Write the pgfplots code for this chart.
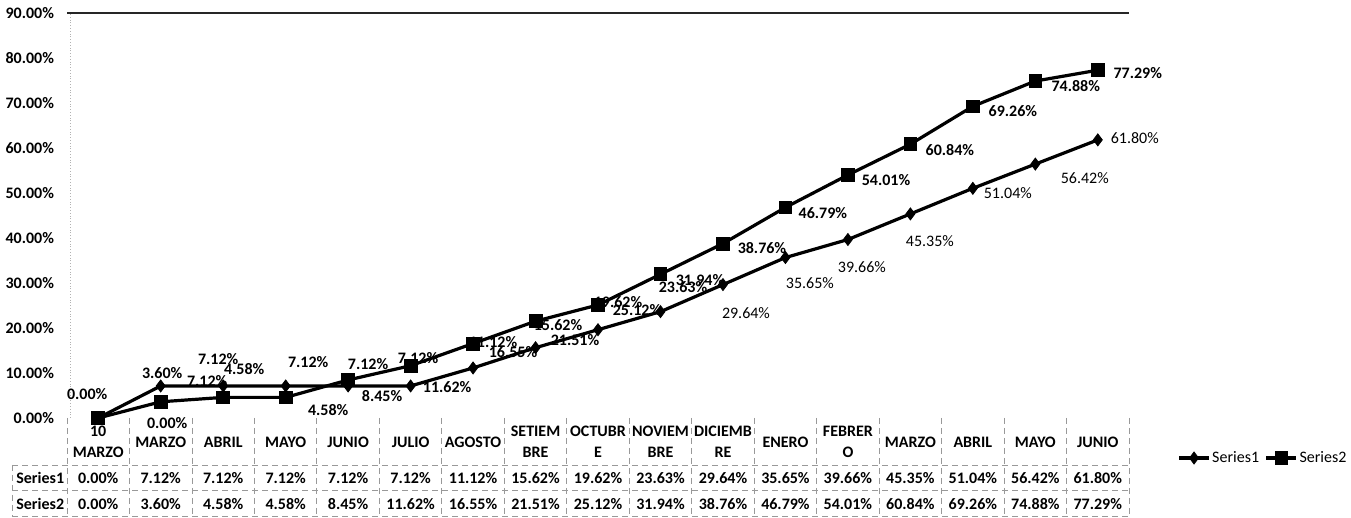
\documentclass[border=0pt]{standalone}
\usepackage{fontspec}
\setmainfont{Carlito}
\usepackage{pgfplots}
\pgfplotsset{compat=1.18}
\usepackage{pgfplotstable}

\pgfplotstableread{
x s1 s2
0 0.00 0.00
1 7.12 3.60
2 7.12 4.58
3 7.12 4.58
4 7.12 8.45
5 7.12 11.62
6 11.12 16.55
7 15.62 21.51
8 19.62 25.12
9 23.63 31.94
10 29.64 38.76
11 35.65 46.79
12 39.66 54.01
13 45.35 60.84
14 51.04 69.26
15 56.42 74.88
16 61.80 77.29
}\data

\newcommand{\fs}{\fontsize{8}{10.5}\selectfont}
\tikzset{
  lbl/.style={font=\fs\bfseries, inner sep=0pt, anchor=center},
  lbln/.style={font=\fs, inner sep=0pt, anchor=center},
  hdr/.style={font=\fs\bfseries, inner sep=0pt, anchor=center, align=center},
  tbl/.style={draw=black!40, densely dashed, line width=0.4pt},
}

\begin{document}
\begin{tikzpicture}
\begin{axis}[
  width=531pt, height=202.5pt, scale only axis,
  xmin=-0.5, xmax=16.5, ymin=0, ymax=90,
  clip=false,
  axis line style={draw=none},
  major tick length=0pt,
  xtick=\empty,
  ytick={0,10,...,90},
  /pgf/number format/assume math mode=true,
  yticklabel={\pgfmathprintnumber[fixed,fixed zerofill,precision=2]{\tick}\%},
  yticklabel style={font=\fs\bfseries, xshift=-3pt},
  legend style={at={(1.0452,-0.0988)}, anchor=west, draw=none, fill=none,
    legend columns=2, font=\fs, inner sep=0pt,
    nodes={inner sep=0.8pt},
    /tikz/every even column/.append style={column sep=2pt}},
  legend image code/.code={
    \draw[mark repeat=2,mark phase=2] plot coordinates {(0pt,0pt) (7.5pt,0pt) (15pt,0pt)};
  },
  legend cell align=left,
]
% top border line
\draw[black!85, line width=0.9pt] (rel axis cs:0,1) -- (rel axis cs:1,1);
\draw[black!30, densely dotted, line width=0.4pt] (rel axis cs:0.003,0) -- (rel axis cs:0.003,1);

\addplot[black, line width=1.6pt, mark=diamond*, mark size=3pt, mark options={solid, line width=0.4pt}] table[x=x,y=s1]{\data};
\addlegendentry{Series1}
\addplot[black, line width=1.6pt, mark=square*, mark size=3.2pt, mark options={solid, line width=0.4pt}] table[x=x,y=s2]{\data};
\addlegendentry{Series2}

% data labels
\node[lbl] at (axis cs:-0.176,5.33) {0.00\%};
\node[lbl] at (axis cs:1.024,10.0) {3.60\%};
\node[lbl] at (axis cs:1.104,-1.11) {0.00\%};
\node[lbl] at (axis cs:1.92,13.11) {7.12\%};
\node[lbl] at (axis cs:2.336,10.89) {4.58\%};
\node[lbl] at (axis cs:1.744,8.22) {7.12\%};
\node[lbl] at (axis cs:3.36,12.44) {7.12\%};
\node[lbl] at (axis cs:3.68,1.78) {4.58\%};
\node[lbl] at (axis cs:4.32,12.0) {7.12\%};
\node[lbl] at (axis cs:4.544,4.89) {8.45\%};
\node[lbl] at (axis cs:5.12,13.33) {7.12\%};
\node[lbl] at (axis cs:5.584,6.89) {11.62\%};
\node[lbl] at (axis cs:6.32,16.9) {11.12\%};
\node[lbl] at (axis cs:6.64,14.67) {16.55\%};
\node[lbl] at (axis cs:7.36,20.67) {15.62\%};
\node[lbl] at (axis cs:7.632,17.33) {21.51\%};
\node[lbl] at (axis cs:8.32,25.8) {19.62\%};
\node[lbl] at (axis cs:8.624,24.0) {25.12\%};
\node[lbl] at (axis cs:9.632,30.67) {31.94\%};
\node[lbl] at (axis cs:9.36,29.11) {23.63\%};
\node[lbln] at (axis cs:10.368,23.33) {29.64\%};
\node[lbl] at (axis cs:10.624,37.78) {38.76\%};
\node[lbln] at (axis cs:11.392,30.0) {35.65\%};
\node[lbl] at (axis cs:11.6,45.56) {46.79\%};
\node[lbln] at (axis cs:12.224,33.56) {39.66\%};
\node[lbl] at (axis cs:12.61,52.89) {54.01\%};
\node[lbl] at (axis cs:13.632,59.56) {60.84\%};
\node[lbln] at (axis cs:13.312,39.33) {45.35\%};
\node[lbl] at (axis cs:14.64,68.22) {69.26\%};
\node[lbln] at (axis cs:14.56,50.0) {51.04\%};
\node[lbl] at (axis cs:15.648,73.78) {74.88\%};
\node[lbln] at (axis cs:15.792,53.33) {56.42\%};
\node[lbl] at (axis cs:16.64,76.67) {77.29\%};
\node[lbln] at (axis cs:16.592,62.22) {61.80\%};

% data table grid
\pgfplotsinvokeforeach{-0.5,0.5,1.5,2.5,3.5,4.5,5.5,6.5,7.5,8.5,9.5,10.5,11.5,12.5,13.5,14.5,15.5,16.5}{
  \draw[tbl] (axis cs:#1,0) -- (axis cs:#1,-21.78);
}
\draw[tbl] (axis cs:-1.376,-10.44) -- (axis cs:-1.376,-21.78);
\draw[tbl] (axis cs:-1.376,-10.44) -- (axis cs:16.5,-10.44);
\draw[tbl] (axis cs:-1.376,-16.0) -- (axis cs:16.5,-16.0);
\draw[tbl] (axis cs:-1.376,-21.78) -- (axis cs:16.5,-21.78);

% headers
\node[hdr] at (axis cs:0,-5.33) {10\\MARZO};
\node[hdr] at (axis cs:1,-5.33) {MARZO};
\node[hdr] at (axis cs:2,-5.33) {ABRIL};
\node[hdr] at (axis cs:3,-5.33) {MAYO};
\node[hdr] at (axis cs:4,-5.33) {JUNIO};
\node[hdr] at (axis cs:5,-5.33) {JULIO};
\node[hdr] at (axis cs:6,-5.33) {AGOSTO};
\node[hdr] at (axis cs:7,-5.33) {SETIEM\\BRE};
\node[hdr] at (axis cs:8,-5.33) {OCTUBR\\E};
\node[hdr] at (axis cs:9,-5.33) {NOVIEM\\BRE};
\node[hdr] at (axis cs:10,-5.33) {DICIEMB\\RE};
\node[hdr] at (axis cs:11,-5.33) {ENERO};
\node[hdr] at (axis cs:12,-5.33) {FEBRER\\O};
\node[hdr] at (axis cs:13,-5.33) {MARZO};
\node[hdr] at (axis cs:14,-5.33) {ABRIL};
\node[hdr] at (axis cs:15,-5.33) {MAYO};
\node[hdr] at (axis cs:16,-5.33) {JUNIO};

% table rows
\node[hdr] at (axis cs:-0.928,-13.33) {Series1};
\node[hdr] at (axis cs:-0.928,-19.1) {Series2};
\node[hdr] at (axis cs:0,-13.33) {0.00\%};
\node[hdr] at (axis cs:1,-13.33) {7.12\%};
\node[hdr] at (axis cs:2,-13.33) {7.12\%};
\node[hdr] at (axis cs:3,-13.33) {7.12\%};
\node[hdr] at (axis cs:4,-13.33) {7.12\%};
\node[hdr] at (axis cs:5,-13.33) {7.12\%};
\node[hdr] at (axis cs:6,-13.33) {11.12\%};
\node[hdr] at (axis cs:7,-13.33) {15.62\%};
\node[hdr] at (axis cs:8,-13.33) {19.62\%};
\node[hdr] at (axis cs:9,-13.33) {23.63\%};
\node[hdr] at (axis cs:10,-13.33) {29.64\%};
\node[hdr] at (axis cs:11,-13.33) {35.65\%};
\node[hdr] at (axis cs:12,-13.33) {39.66\%};
\node[hdr] at (axis cs:13,-13.33) {45.35\%};
\node[hdr] at (axis cs:14,-13.33) {51.04\%};
\node[hdr] at (axis cs:15,-13.33) {56.42\%};
\node[hdr] at (axis cs:16,-13.33) {61.80\%};
\node[hdr] at (axis cs:0,-19.1) {0.00\%};
\node[hdr] at (axis cs:1,-19.1) {3.60\%};
\node[hdr] at (axis cs:2,-19.1) {4.58\%};
\node[hdr] at (axis cs:3,-19.1) {4.58\%};
\node[hdr] at (axis cs:4,-19.1) {8.45\%};
\node[hdr] at (axis cs:5,-19.1) {11.62\%};
\node[hdr] at (axis cs:6,-19.1) {16.55\%};
\node[hdr] at (axis cs:7,-19.1) {21.51\%};
\node[hdr] at (axis cs:8,-19.1) {25.12\%};
\node[hdr] at (axis cs:9,-19.1) {31.94\%};
\node[hdr] at (axis cs:10,-19.1) {38.76\%};
\node[hdr] at (axis cs:11,-19.1) {46.79\%};
\node[hdr] at (axis cs:12,-19.1) {54.01\%};
\node[hdr] at (axis cs:13,-19.1) {60.84\%};
\node[hdr] at (axis cs:14,-19.1) {69.26\%};
\node[hdr] at (axis cs:15,-19.1) {74.88\%};
\node[hdr] at (axis cs:16,-19.1) {77.29\%};

\coordinate (bl) at (rel axis cs:-0.0631,-0.2469);
\coordinate (tr) at (rel axis cs:1.2090,1.0321);
\end{axis}
\pgfresetboundingbox
\path[use as bounding box] (bl) rectangle (tr);
\end{tikzpicture}
\end{document}
